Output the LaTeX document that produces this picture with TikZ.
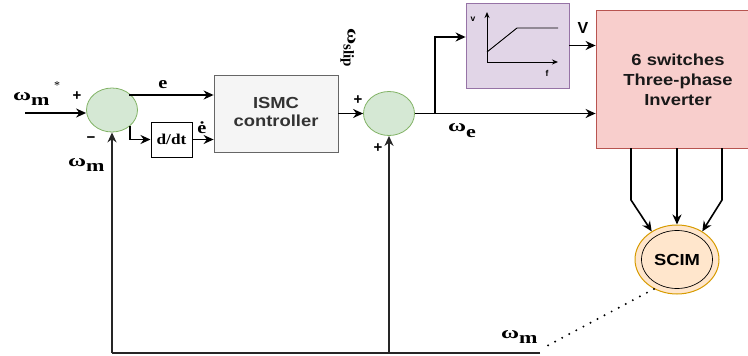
\documentclass[tikz,border=0pt]{standalone}
\usepackage{fontspec}
\setmainfont{Liberation Serif}
\setsansfont{Liberation Sans}
\usepackage{graphicx}
\usetikzlibrary{shapes.geometric,arrows.meta}
\definecolor{sumfill}{HTML}{D5E8D4}
\definecolor{sumline}{HTML}{82B366}
\definecolor{ismcfill}{HTML}{F5F5F5}
\definecolor{ismcline}{HTML}{666666}
\definecolor{vffill}{HTML}{E1D5E7}
\definecolor{vfline}{HTML}{9673A6}
\definecolor{invfill}{HTML}{F8CECC}
\definecolor{invline}{HTML}{B85450}
\definecolor{scimfill}{HTML}{FFE6CC}
\definecolor{scimline}{HTML}{D79B00}
\definecolor{txtgray}{HTML}{333333}
\newcommand\hs[1]{\scalebox{1.15}[1]{#1}}
\newcommand\omlab[1]{\scalebox{1.45}[1]{ω}\raisebox{-5pt}{\scalebox{1.3}[1]{#1}}}
\tikzset{
  arr/.style={-{Stealth[length=10pt,width=9pt]}, line width=1.6pt},
  fbwire/.style={line width=2pt, draw=black!85},
  sumnode/.style={ellipse, draw=sumline, fill=sumfill, line width=0.8pt,
    minimum width=51pt, minimum height=44pt, inner sep=0pt},
  ismcbox/.style={rectangle, draw=ismcline, fill=ismcfill, line width=0.8pt,
    minimum width=124pt, minimum height=77pt, inner sep=0pt,
    font=\fontsize{16}{19}\selectfont\sffamily\bfseries, text=txtgray},
  ddtbox/.style={rectangle, draw=black, fill=white, line width=1pt,
    minimum width=41pt, minimum height=35pt, inner sep=0pt,
    font=\fontsize{15}{18}\selectfont\bfseries},
  vfbox/.style={rectangle, draw=vfline, fill=vffill, line width=0.8pt,
    minimum width=103pt, minimum height=85pt, inner sep=0pt},
  invbox/.style={rectangle, draw=invline, fill=invfill, line width=0.8pt,
    minimum width=160pt, minimum height=138pt, inner sep=0pt,
    font=\fontsize{16}{19}\selectfont\sffamily\bfseries, text=black!90},
  scimnode/.style={ellipse, draw=scimline, fill=scimfill, line width=1pt,
    minimum width=84pt, minimum height=69pt, inner sep=0pt},
  sciminner/.style={ellipse, draw=black, line width=0.7pt,
    minimum width=71pt, minimum height=58pt, inner sep=0pt,
    font=\fontsize{16}{19}\selectfont\sffamily\bfseries},
  lab/.style={font=\fontsize{17}{20}\selectfont\bfseries, inner sep=0pt},
  sgn/.style={font=\fontsize{15}{17}\selectfont\sffamily\bfseries, inner sep=0pt},
  tiny/.style={font=\fontsize{8.5}{10}\selectfont\sffamily\bfseries, inner sep=0pt},
}
\begin{document}
\begin{tikzpicture}[x=1pt,y=-1pt]
\useasboundingbox (0,0) rectangle (748,356);
% blocks
\node[sumnode] (s1) at (112,110) {};
\node[sumnode] (s2) at (389,113.5) {};
\node[ismcbox] (ismc) at (276,113.5) {\hs{\begin{tabular}{@{}c@{}}ISMC\\[-1pt]controller\end{tabular}}};
\node[ddtbox] (ddt) at (171.5,139.5) {\scalebox{1.15}[1]{d/dt}};
\node[vfbox] (vf) at (517.5,45.5) {};
\node[invbox] (inv) at (676,79) {};
\node[font=\fontsize{16}{19}\selectfont\sffamily\bfseries, text=black!90, inner sep=0pt] (invtxt) at (678,82) {\hs{\begin{tabular}{@{}c@{}}6 switches\\[1pt]Three-phase\\[1pt]Inverter\end{tabular}}};
\node[scimnode] (scim) at (677,259.5) {};
\node[sciminner] (scimin) at (677,259.5) {\hs{SCIM}};
% V/f characteristic
\coordinate (og) at (487,62);
\coordinate (ya) at (487,12);
\coordinate (xa) at (558,62);
\coordinate (c1) at (487,52);
\coordinate (c2) at (517,28);
\coordinate (c3) at (558,28);
\draw[line width=1pt,-{Stealth[length=6pt,width=5pt]}] (og) -- (ya);
\draw[line width=1pt,-{Stealth[length=6pt,width=5pt]}] (og) -- (xa);
\draw[line width=0.9pt] (c1) -- (c2) -- (c3);
\node[tiny] (lv) at (473,19) {v};
\node[tiny] (lf) at (547,73) {f};
% input
\coordinate (in) at (25,113);
\draw[arr] (in) -- (in -| s1.west);
% error branches
\coordinate (e0) at (130,96);
\coordinate (d0) at (130,126);
\draw[arr] (e0) |- ([yshift=18.5pt]ismc.west);
\draw[arr] (d0) |- (ddt.west);
\draw[arr] (ddt.east) -- (ddt.east -| ismc.west);
% controller to sum2
\draw[arr] (ismc.east) -- (s2.west);
\draw[arr] (s2.east) -- (s2.east -| inv.west);
\coordinate (br) at (435,113.5);
\draw[arr] (br) |- ([yshift=8.5pt]vf.west);
\draw[arr] (vf.east) -- (vf.east -| inv.west);
% inverter to motor
\coordinate (pl) at (631,148);
\coordinate (plb) at (631,200);
\coordinate (pr) at (722,148);
\coordinate (prb) at (722,200);
\draw[arr] (pl) -- (plb) -- (scim.132);
\draw[arr] (scim.north |- inv.south) -- (scim.north);
\draw[arr] (pr) -- (prb) -- (scim.48);
% feedback
\coordinate (fb1) at (112,353);
\coordinate (fb2) at (389,353);
\coordinate (fbe) at (540,353);
\draw[fbwire] (fbe) -- (fb1);
\draw[fbwire,-{Stealth[length=10pt,width=9pt]}] (fb1) -- (s1.south);
\draw[fbwire,-{Stealth[length=10pt,width=9pt]}] (fb2) -- (s2.south);
\coordinate (dotend) at (545,347);
\draw[line width=2.2pt, line cap=round, dash pattern=on 0pt off 8pt] (scim.232) -- (dotend);
% labels
\node[lab, anchor=base west] (lwref) at (13,100) {\omlab{m}};
\node[font=\fontsize{12}{14}\selectfont, inner sep=0pt] (lstar) at (57,86) {*};
\node[sgn] (p1) at (77,96) {+};
\node[sgn] (m1) at (91,140) {−};
\node[lab, anchor=base] (le) at (163,88) {\scalebox{1.2}[1]{e}};
\node[lab, anchor=base] (led) at (202,133) {\scalebox{1.2}[1]{\.{e}}};
\node[lab, anchor=base west] (lwm) at (68,166) {\omlab{m}};
\node[lab, rotate=-90] (lslip) at (348,48) {\scalebox{1.3}[1]{ω}\raisebox{-4pt}{\fontsize{15}{17}\selectfont slip}};
\node[sgn] (p2) at (358,100) {+};
\node[sgn] (p3) at (378,148) {+};
\node[lab, anchor=base west] (lwe) at (448,131) {\scalebox{1.45}[1]{ω}\raisebox{-6pt}{\scalebox{1.3}[1]{e}}};
\node[sgn, font=\fontsize{16}{19}\selectfont\sffamily\bfseries] (lV) at (583,28) {V};
\node[lab, anchor=base west] (lwfb) at (501,338) {\omlab{m}};
\end{tikzpicture}
\end{document}
